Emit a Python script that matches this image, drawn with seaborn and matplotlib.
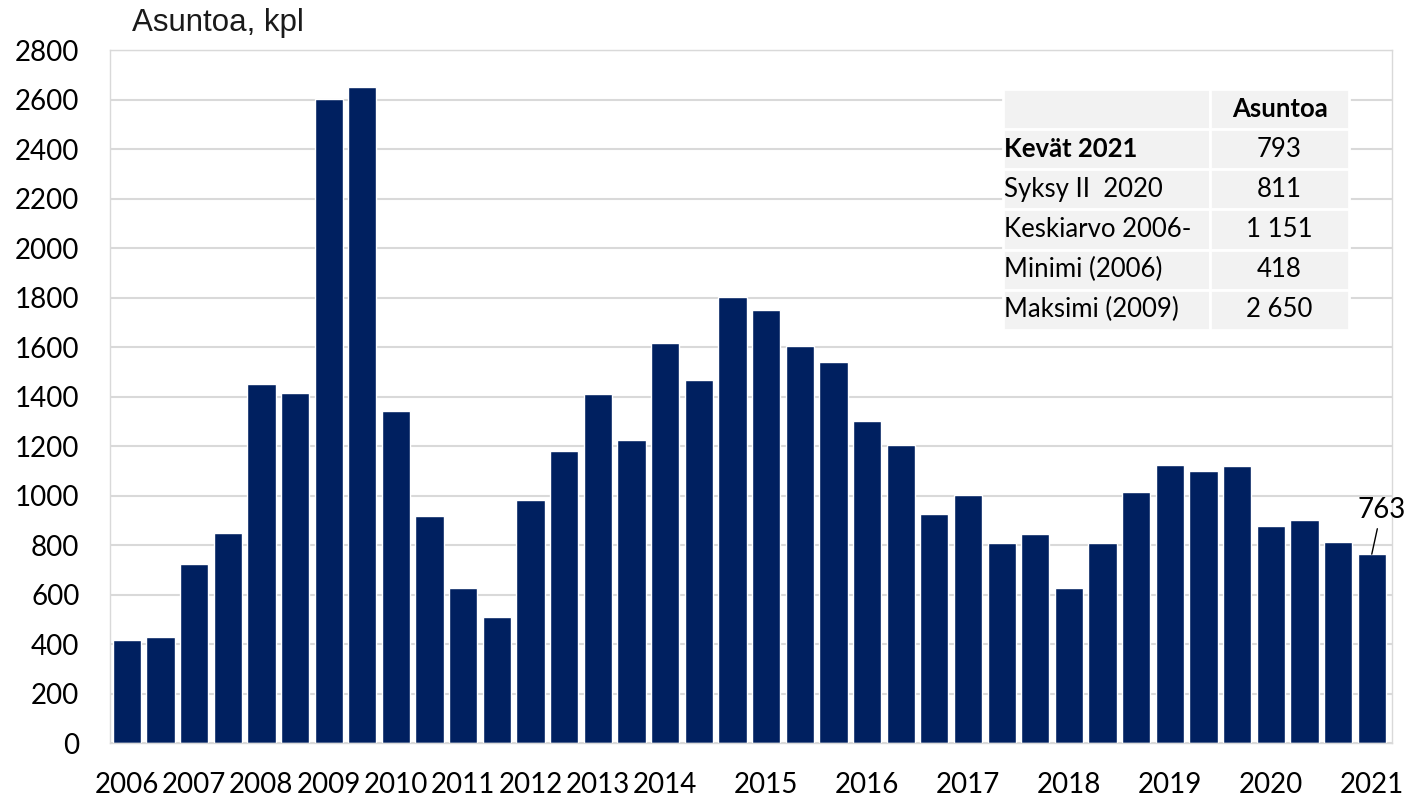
import numpy as np
import pandas as pd
import matplotlib
matplotlib.use("Agg")
import matplotlib.pyplot as plt
import seaborn as sns

# asuntoja kaudittain (kevät/syksy, 2015- kolme kautta vuodessa)
values = [418, 427, 723, 848, 1451, 1413, 2603, 2650, 1341, 917,
          625, 511, 981, 1180, 1410, 1226, 1617, 1467, 1802, 1750,
          1605, 1540, 1302, 1205, 927, 1003, 808, 844, 627, 808,
          1015, 1124, 1101, 1119, 875, 902, 811, 763]
year_labels = ["2006", "", "2007", "", "2008", "", "2009", "", "2010", "",
               "2011", "", "2012", "", "2013", "", "2014", "", "", "2015",
               "", "", "2016", "", "", "2017", "", "", "2018", "",
               "", "2019", "", "", "2020", "", "", "2021"]
table_rows = ["Kevät 2021", "Syksy II  2020", "Keskiarvo 2006-", "Minimi (2006)", "Maksimi (2009)"]
table_values = ["793", "811", "1 151", "418", "2 650"]
y_ticks = list(range(0, 2801, 200))

df = pd.DataFrame({"jakso": list(range(len(values))), "asuntoa": values})

sns.set_theme(style="white")
plt.rcParams["font.family"] = ["Lato", "DejaVu Sans"]

fig = plt.figure(figsize=(14.1, 7.98), dpi=100)
ax = fig.add_axes([0.078, 0.0689, 0.9092, 0.8684])

sns.barplot(data=df, x="jakso", y="asuntoa", color="#002060", saturation=1,
            width=0.84, ax=ax, zorder=2)

ax.set_ylim(0, 2800)
ax.set_xlim(-0.5, len(values) - 0.4)
ax.set_yticks(y_ticks)
ax.set_yticklabels([str(t) for t in y_ticks], fontsize=20, color="black")
ax.set_xticks(range(len(values)))
ax.set_xticklabels(year_labels, fontsize=20, color="black")
ax.tick_params(axis="both", length=0)
ax.tick_params(axis="y", pad=22)
ax.tick_params(axis="x", pad=21)
ax.set_xlabel("")
ax.set_ylabel("")
ax.yaxis.grid(True, color="#d9d9d9", linewidth=1.5, zorder=0)
ax.set_axisbelow(True)
for s in ax.spines.values():
    s.set_color("#d9d9d9")
    s.set_linewidth(1)

fig.text(132 / 1410, 1 - 31 / 798, "Asuntoa, kpl", fontsize=22.5,
         family="Liberation Sans", color="#1a1a1a", va="baseline", ha="left")

# viimeisin arvo
ax.annotate(str(values[-1]), xy=(len(values) - 1, values[-1]), xytext=(7, 32),
            textcoords="offset points", ha="center", va="center", fontsize=20,
            color="black",
            arrowprops=dict(arrowstyle="-", color="black", lw=1, shrinkA=2, shrinkB=0))

# taulukko
tbl = ax.table(cellText=[[r, v] for r, v in zip(table_rows, table_values)],
               colLabels=["", "Asuntoa"], cellLoc="center",
               colWidths=[0.598, 0.402], bbox=[0.6966, 0.596, 0.270, 0.348],
               zorder=5)
tbl.auto_set_font_size(False)
tbl.set_fontsize(18.5)
for (r, c), cell in tbl.get_celld().items():
    cell.set_facecolor("#f2f2f2")
    cell.set_edgecolor("white")
    cell.set_linewidth(2)
    cell.get_text().set_color("black")
    if c == 0:
        cell.get_text().set_horizontalalignment("left")
        cell.PAD = 0.005
    if (r == 0 and c == 1) or (r == 1 and c == 0):
        cell.get_text().set_fontweight("bold")

fig.savefig("out.png", dpi=100)
